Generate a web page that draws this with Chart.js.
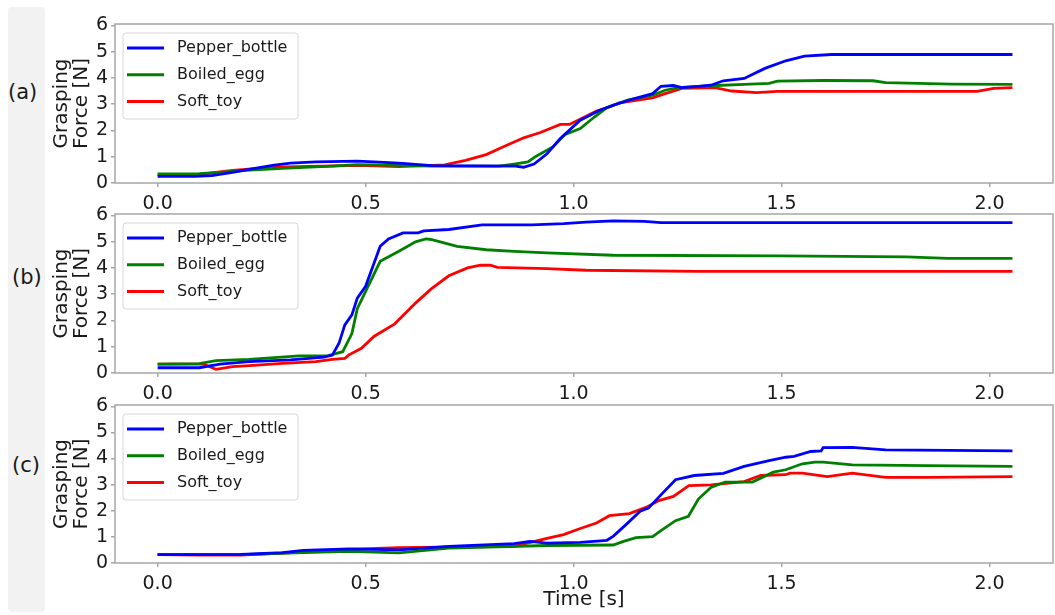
<!DOCTYPE html>
<html>
<head>
<meta charset="utf-8">
<script src="https://cdn.jsdelivr.net/npm/chart.js@4.4.1/dist/chart.umd.min.js"></script>
<style>
  body { margin: 0; background: #fff; width: 1055px; height: 615px; position: relative; overflow: hidden; font-family: 'DejaVu Sans', sans-serif; }
  .strip { position: absolute; left: 8px; top: 7px; width: 37px; height: 605px; background: #f2f2f2; border-radius: 4px; }
  .tag { position: absolute; font-size: 21px; line-height: 24px; color: #1a1a1a; }
  canvas { position: absolute; left: 0; }
</style>
</head>
<body>
<div class="strip"></div>
<div class="tag" style="left:8px; top:80px;">(a)</div>
<div class="tag" style="left:12px; top:265px;">(b)</div>
<div class="tag" style="left:12px; top:453px;">(c)</div>
<canvas id="panelA" width="1055" height="215" style="top:0px"></canvas>
<canvas id="panelB" width="1055" height="215" style="top:190px"></canvas>
<canvas id="panelC" width="1055" height="234" style="top:381px"></canvas>
<script>
// objects in the legend
const objects = ['Pepper_bottle', 'Boiled_egg', 'Soft_toy'];
const colors = ['#0000ff', '#008000', '#ff0000'];

const xTicks = [0.0, 0.5, 1.0, 1.5, 2.0];
const yTicks = [0, 1, 2, 3, 4, 5, 6];

// (a) [time s, force N]
const a_pepper = [[0,0.25],[0.09,0.25],[0.13,0.28],[0.18,0.4],[0.23,0.55],[0.28,0.68],[0.32,0.76],[0.38,0.8],[0.48,0.83],[0.52,0.8],[0.58,0.76],[0.66,0.66],[0.75,0.65],[0.86,0.64],[0.88,0.6],[0.905,0.72],[0.936,1.11],[0.968,1.69],[1.016,2.39],[1.063,2.77],[1.095,2.96],[1.14,3.18],[1.19,3.4],[1.21,3.68],[1.24,3.71],[1.26,3.63],[1.3,3.68],[1.33,3.72],[1.36,3.89],[1.41,3.98],[1.46,4.36],[1.51,4.65],[1.555,4.83],[1.62,4.89],[2.055,4.89]];
const a_egg = [[0,0.35],[0.1,0.36],[0.15,0.4],[0.21,0.48],[0.3,0.56],[0.42,0.64],[0.48,0.7],[0.55,0.68],[0.66,0.64],[0.82,0.64],[0.857,0.72],[0.89,0.8],[0.91,1.02],[0.95,1.37],[0.98,1.85],[1.016,2.07],[1.05,2.51],[1.08,2.87],[1.13,3.15],[1.19,3.34],[1.22,3.53],[1.25,3.63],[1.33,3.7],[1.41,3.75],[1.47,3.79],[1.49,3.88],[1.6,3.9],[1.72,3.89],[1.75,3.82],[1.91,3.76],[2.055,3.75]];
const a_toy = [[0,0.32],[0.1,0.33],[0.18,0.48],[0.28,0.6],[0.48,0.67],[0.58,0.62],[0.69,0.69],[0.74,0.86],[0.79,1.08],[0.83,1.37],[0.88,1.72],[0.92,1.92],[0.968,2.23],[0.99,2.23],[1.055,2.74],[1.086,2.89],[1.11,3.05],[1.19,3.24],[1.22,3.4],[1.26,3.6],[1.34,3.63],[1.38,3.5],[1.44,3.44],[1.49,3.49],[1.97,3.49],[2.01,3.6],[2.055,3.63]];

// (b)
const b_pepper = [[0,0.2],[0.1,0.2],[0.15,0.34],[0.22,0.43],[0.32,0.5],[0.4,0.6],[0.42,0.68],[0.436,1.13],[0.45,1.83],[0.467,2.21],[0.48,2.85],[0.5,3.3],[0.535,4.82],[0.555,5.1],[0.59,5.33],[0.626,5.33],[0.64,5.41],[0.7,5.46],[0.78,5.64],[0.9,5.64],[0.976,5.68],[1.03,5.74],[1.095,5.79],[1.17,5.77],[1.21,5.72],[2.055,5.72]];
const b_egg = [[0,0.34],[0.1,0.36],[0.14,0.47],[0.22,0.52],[0.34,0.65],[0.41,0.66],[0.445,0.81],[0.467,1.5],[0.48,2.45],[0.535,4.25],[0.58,4.63],[0.62,4.99],[0.645,5.1],[0.657,5.08],[0.72,4.82],[0.79,4.69],[0.857,4.63],[0.936,4.57],[1.095,4.48],[1.5,4.46],[1.8,4.42],[1.9,4.36],[2.055,4.36]];
const b_toy = [[0,0.34],[0.11,0.34],[0.14,0.14],[0.18,0.24],[0.23,0.29],[0.3,0.37],[0.38,0.43],[0.42,0.52],[0.45,0.56],[0.46,0.69],[0.49,0.94],[0.52,1.39],[0.57,1.87],[0.62,2.66],[0.657,3.19],[0.7,3.7],[0.745,4.0],[0.776,4.1],[0.8,4.1],[0.817,4.02],[0.936,3.97],[1.03,3.91],[1.3,3.87],[2.055,3.87]];

// (c)
const c_pepper = [[0,0.32],[0.2,0.33],[0.3,0.4],[0.35,0.48],[0.46,0.54],[0.58,0.5],[0.7,0.64],[0.857,0.74],[0.895,0.83],[0.936,0.76],[1.016,0.79],[1.08,0.87],[1.095,1.02],[1.126,1.47],[1.16,1.98],[1.18,2.1],[1.21,2.61],[1.245,3.19],[1.27,3.28],[1.29,3.35],[1.36,3.43],[1.41,3.7],[1.47,3.92],[1.51,4.05],[1.53,4.08],[1.57,4.27],[1.595,4.29],[1.6,4.42],[1.67,4.43],[1.75,4.33],[2.055,4.29]];
const c_egg = [[0,0.32],[0.2,0.32],[0.35,0.4],[0.46,0.45],[0.58,0.39],[0.7,0.57],[0.936,0.67],[1.095,0.69],[1.12,0.83],[1.15,0.97],[1.19,1.01],[1.21,1.24],[1.245,1.62],[1.276,1.79],[1.3,2.45],[1.33,2.89],[1.364,3.1],[1.43,3.1],[1.48,3.48],[1.51,3.57],[1.55,3.8],[1.58,3.86],[1.6,3.86],[1.67,3.76],[1.85,3.73],[2.055,3.7]];
const c_toy = [[0,0.32],[0.1,0.3],[0.2,0.3],[0.3,0.38],[0.46,0.52],[0.58,0.59],[0.857,0.64],[0.936,0.94],[0.976,1.09],[1.016,1.32],[1.055,1.53],[1.086,1.81],[1.134,1.89],[1.174,2.13],[1.205,2.39],[1.24,2.55],[1.277,2.96],[1.33,2.99],[1.41,3.12],[1.45,3.35],[1.51,3.38],[1.52,3.44],[1.55,3.44],[1.61,3.31],[1.67,3.44],[1.75,3.28],[1.85,3.28],[2.055,3.31]];

Chart.defaults.font.family = "'DejaVu Sans', sans-serif";
Chart.defaults.color = '#1a1a1a';

const spineColor = '#a6a6a6';

// box round the plot area, all four sides
const framePlugin = {
  id: 'frame',
  afterDraw(chart) {
    const { ctx, chartArea: a } = chart;
    ctx.save();
    ctx.strokeStyle = spineColor;
    ctx.lineWidth = 1.5;
    ctx.strokeRect(a.left, a.top, a.right - a.left, a.bottom - a.top);
    ctx.restore();
  }
};

// matplotlib style legend box in the upper left corner
const boxLegend = {
  id: 'boxLegend',
  afterDraw(chart) {
    const { ctx, chartArea: a } = chart;
    const x0 = a.left + 8, y0 = a.top + 9;
    ctx.save();
    ctx.beginPath();
    ctx.roundRect(x0, y0, 175, 86, 3);
    ctx.fillStyle = 'rgba(255,255,255,0.8)';
    ctx.fill();
    ctx.strokeStyle = '#d6d6d6';
    ctx.lineWidth = 1;
    ctx.stroke();
    ctx.font = "16px 'DejaVu Sans'";
    ctx.textBaseline = 'middle';
    chart.data.datasets.forEach((ds, i) => {
      const y = a.top + 24 + i * 26.7;
      ctx.beginPath();
      ctx.moveTo(a.left + 12, y);
      ctx.lineTo(a.left + 49, y);
      ctx.strokeStyle = ds.borderColor;
      ctx.lineWidth = 3;
      ctx.stroke();
      ctx.fillStyle = '#1a1a1a';
      ctx.fillText(ds.label, a.left + 62, y);
    });
    ctx.restore();
  }
};

function makePanel(id, series, xAxisHeight, showTime) {
  const ctx = document.getElementById(id).getContext('2d');
  return new Chart(ctx, {
    type: 'line',
    data: {
      datasets: series.map((pts, i) => ({
        label: objects[i],
        data: pts.map(p => ({ x: p[0], y: p[1] })),
        borderColor: colors[i],
        backgroundColor: colors[i],
        borderWidth: 2.8,
        pointRadius: 0,
        tension: 0
      }))
    },
    options: {
      responsive: false,
      animation: false,
      layout: { padding: { top: 24, right: 2, left: 0, bottom: 0 } },
      plugins: { legend: { display: false }, tooltip: { enabled: false } },
      scales: {
        x: {
          type: 'linear',
          min: -0.1025,
          max: 2.1525,
          afterBuildTicks: ax => { ax.ticks = xTicks.map(v => ({ value: v })); },
          afterFit: ax => { ax.height = xAxisHeight; },
          border: { display: false },
          grid: { drawOnChartArea: false, tickLength: 4, color: spineColor, lineWidth: 1.5 },
          ticks: { padding: 6, font: { size: 19 }, maxRotation: 0, autoSkip: false, callback: v => Number(v).toFixed(1) },
          title: { display: showTime, text: 'Time [s]', font: { size: 20, lineHeight: 1 }, padding: { top: 0, bottom: 5 } }
        },
        y: {
          min: 0,
          max: 6.05,
          afterBuildTicks: ax => { ax.ticks = yTicks.map(v => ({ value: v })); },
          afterFit: ax => { ax.width = 115; },
          border: { display: false },
          grid: { drawOnChartArea: false, tickLength: 4, color: spineColor, lineWidth: 1.5 },
          ticks: { padding: 3, font: { size: 19 }, callback: v => String(v) },
          title: { display: true, text: ['Grasping', 'Force [N]'], font: { size: 20, lineHeight: 1 }, padding: { top: 52, bottom: 0 } }
        }
      }
    },
    plugins: [framePlugin, boxLegend]
  });
}

makePanel('panelA', [a_pepper, a_egg, a_toy], 32, false);
makePanel('panelB', [b_pepper, b_egg, b_toy], 32, false);
makePanel('panelC', [c_pepper, c_egg, c_toy], 52, true);
</script>
</body>
</html>
